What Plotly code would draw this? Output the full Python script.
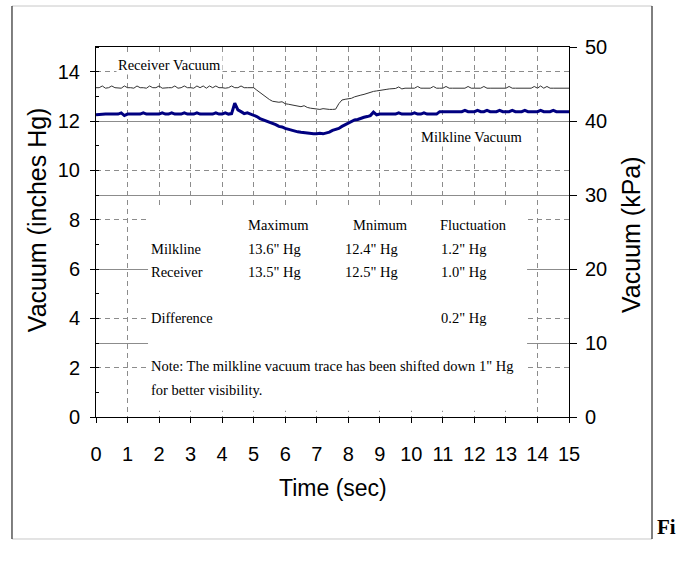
import plotly.graph_objects as go

# ---- data ----
time_sec = [round(i * 0.1, 1) for i in range(151)]

receiver_inhg = [
    13.35, 13.35, 13.42, 13.33, 13.35, 13.42, 13.35, 13.35, 13.33, 13.42,
    13.35, 13.35, 13.33, 13.42, 13.35, 13.35, 13.33, 13.42, 13.35, 13.35,
    13.42, 13.33, 13.35, 13.35, 13.35, 13.42, 13.33, 13.35, 13.42, 13.35,
    13.35, 13.33, 13.42, 13.35, 13.42, 13.33, 13.42, 13.35, 13.42, 13.35,
    13.35, 13.33, 13.35, 13.42, 13.35, 13.35, 13.42, 13.35, 13.35, 13.35,
    13.35, 13.25, 13.15, 13.05, 12.95, 12.87, 12.80, 12.78, 12.76, 12.78,
    12.70, 12.68, 12.66, 12.62, 12.60, 12.58, 12.62, 12.55, 12.52, 12.50,
    12.47, 12.47, 12.50, 12.47, 12.47, 12.47, 12.48, 12.70, 12.85, 12.88,
    12.90, 12.92, 12.98, 13.00, 13.05, 13.08, 13.12, 13.18, 13.20, 13.22,
    13.25, 13.28, 13.28, 13.30, 13.30, 13.32, 13.38, 13.30, 13.33, 13.33,
    13.33, 13.33, 13.40, 13.33, 13.33, 13.33, 13.33, 13.40, 13.33, 13.33,
    13.33, 13.40, 13.33, 13.33, 13.33, 13.33, 13.33, 13.33, 13.40, 13.33,
    13.33, 13.33, 13.33, 13.40, 13.33, 13.33, 13.33, 13.33, 13.33, 13.33,
    13.33, 13.40, 13.33, 13.33, 13.33, 13.33, 13.33, 13.33, 13.33, 13.40,
    13.33, 13.42, 13.33, 13.40, 13.33, 13.33, 13.33, 13.33, 13.33, 13.33,
    13.33,
]

milkline_inhg = [
    12.25, 12.27, 12.28, 12.28, 12.28, 12.28, 12.28, 12.28, 12.33, 12.22,
    12.28, 12.28, 12.28, 12.28, 12.28, 12.33, 12.28, 12.28, 12.28, 12.28,
    12.28, 12.33, 12.28, 12.28, 12.33, 12.28, 12.28, 12.28, 12.33, 12.28,
    12.28, 12.28, 12.33, 12.28, 12.28, 12.28, 12.28, 12.28, 12.33, 12.28,
    12.28, 12.33, 12.28, 12.30, 12.72, 12.45, 12.38, 12.30, 12.33, 12.28,
    12.25, 12.18, 12.10, 12.05, 12.00, 11.97, 11.92, 11.85, 11.78, 11.76,
    11.70, 11.66, 11.62, 11.60, 11.56, 11.54, 11.52, 11.50, 11.48, 11.48,
    11.48, 11.50, 11.48, 11.50, 11.55, 11.62, 11.66, 11.70, 11.78, 11.85,
    11.92, 11.98, 12.04, 12.06, 12.12, 12.15, 12.18, 12.22, 12.36, 12.25,
    12.28, 12.28, 12.28, 12.28, 12.28, 12.28, 12.33, 12.28, 12.28, 12.28,
    12.28, 12.33, 12.28, 12.28, 12.33, 12.28, 12.28, 12.28, 12.28, 12.38,
    12.38, 12.38, 12.38, 12.38, 12.38, 12.38, 12.38, 12.43, 12.38, 12.38,
    12.38, 12.43, 12.38, 12.38, 12.43, 12.38, 12.38, 12.38, 12.43, 12.38,
    12.38, 12.38, 12.43, 12.38, 12.38, 12.38, 12.43, 12.38, 12.38, 12.38,
    12.38, 12.43, 12.38, 12.38, 12.38, 12.43, 12.38, 12.38, 12.38, 12.38,
    12.38,
]

x_ticks = list(range(0, 16))
y_left_ticks = [0, 2, 4, 6, 8, 10, 12, 14]
y_right_ticks = [0, 10, 20, 30, 40, 50]

table_header = ["Maximum", "Mnimum", "Fluctuation"]
table_rows = ["Milkline", "Receiver", "Difference"]
table_max = ['13.6" Hg', '13.5" Hg', ""]
table_min = ['12.4" Hg', '12.5" Hg', ""]
table_fluct = ['1.2" Hg', '1.0" Hg', '0.2" Hg']
note_lines = ['Note: The milkline vacuum trace has been shifted down 1" Hg',
              "for better visibility."]

# ---- styles ----
SANS = "Liberation Sans, Arial"
SERIF = "Liberation Serif, Times New Roman, serif"
GRID = "#8c8c8c"
TICK_SIZE = 20

fig = go.Figure()
fig.add_trace(go.Scatter(x=time_sec, y=receiver_inhg, mode="lines",
                         line=dict(color="#333333", width=1), showlegend=False))
fig.add_trace(go.Scatter(x=time_sec, y=milkline_inhg, mode="lines",
                         line=dict(color="#000080", width=3), showlegend=False))
# invisible trace to activate the right axis
fig.add_trace(go.Scatter(x=[0], y=[0], yaxis="y2", mode="markers",
                         marker=dict(opacity=0), showlegend=False, hoverinfo="skip"))

fig.update_layout(
    width=688, height=567,
    margin=dict(l=96, r=119, t=47, b=150),
    paper_bgcolor="white", plot_bgcolor="white",
    xaxis=dict(range=[0, 15], tickvals=x_ticks, ticks="outside", ticklen=5,
               tickcolor="black", showline=True, linecolor="black", linewidth=1,
               mirror=True, showgrid=True, gridcolor=GRID, griddash="5px,4px",
               gridwidth=1, zeroline=False, ticklabelstandoff=14,
               tickfont=dict(family=SANS, size=TICK_SIZE, color="black")),
    yaxis=dict(range=[0, 15], tickvals=y_left_ticks, ticks="outside", ticklen=5,
               tickcolor="black", showline=True, linecolor="black", linewidth=1,
               mirror=True, showgrid=True, gridcolor=GRID, griddash="5px,4px",
               zeroline=False, ticklabelstandoff=6,
               minor=dict(dtick=1, tick0=1, ticks="inside", ticklen=3,
                          tickcolor="black", showgrid=False),
               tickfont=dict(family=SANS, size=TICK_SIZE, color="black")),
    yaxis2=dict(range=[0, 50], tickvals=y_right_ticks, overlaying="y", side="right",
                ticks="outside", ticklen=7, tickcolor="black", showline=False,
                showgrid=True, gridcolor=GRID, gridwidth=1, zeroline=False,
                ticklabelstandoff=4,
                tickfont=dict(family=SANS, size=TICK_SIZE, color="black")),
)

shapes = [
    # white panel behind the statistics table
    dict(type="rect", xref="x", yref="y", x0=1.65, x1=13.67, y0=0.25, y1=8.45,
         fillcolor="white", line=dict(width=0), layer="between"),
    # outer page frame
    dict(type="line", xref="paper", yref="paper", x0=-0.1776, x1=1.1755, y0=1.1108, y1=1.1108,
         line=dict(color="#c8c8c8", width=1), layer="above"),
    dict(type="line", xref="paper", yref="paper", x0=-0.1776, x1=1.1755, y0=-0.3297, y1=-0.3297,
         line=dict(color="#c8c8c8", width=1), layer="above"),
    dict(type="line", xref="paper", yref="paper", x0=-0.1776, x1=-0.1776, y0=-0.3297, y1=1.1108,
         line=dict(color="black", width=1), layer="above"),
    dict(type="line", xref="paper", yref="paper", x0=1.1755, x1=1.1755, y0=-0.3297, y1=1.1108,
         line=dict(color="black", width=1), layer="above"),
]
fig.update_layout(shapes=shapes)

ann = []
def txt(x, y, s, size=14.5, xanchor="left", bg=None, font=SERIF):
    d = dict(x=x, y=y, xref="x", yref="y", text=s, showarrow=False,
             xanchor=xanchor, yanchor="middle",
             font=dict(family=font, size=size, color="black"))
    if bg:
        d["bgcolor"] = bg
        d["borderpad"] = 1
    ann.append(d)

# series labels
txt(0.62, 14.27, "Receiver Vacuum", bg="white")
txt(10.25, 11.36, "Milkline Vacuum", bg="white")

# statistics table
header_x = [4.76, 8.1, 10.85]
for hx, h in zip(header_x, table_header):
    txt(hx, 7.78, h)
row_y = [6.80, 5.89, 4.00]
for ry, r, mx, mn, fl in zip(row_y, table_rows, table_max, table_min, table_fluct):
    txt(1.69, ry, r)
    if mx:
        txt(4.76, ry, mx)
    if mn:
        txt(7.84, ry, mn)
    txt(10.88, ry, fl)
txt(1.69, 2.08, note_lines[0])
txt(1.69, 1.09, note_lines[1])

# axis titles
ann.append(dict(x=0.501, y=-0.192, xref="paper", yref="paper", text="Time (sec)",
                showarrow=False, xanchor="center", yanchor="middle",
                font=dict(family=SANS, size=23, color="black")))
ann.append(dict(x=-0.1247, y=0.532, xref="paper", yref="paper", text="Vacuum (inches Hg)",
                showarrow=False, textangle=-90, xanchor="center", yanchor="middle",
                font=dict(family=SANS, size=25, color="black")))
ann.append(dict(x=1.131, y=0.4946, xref="paper", yref="paper", text="Vacuum (kPa)",
                showarrow=False, textangle=-90, xanchor="center", yanchor="middle",
                font=dict(family=SANS, size=25, color="black")))
# page fragment at the bottom right
ann.append(dict(x=1.1818, y=-0.297, xref="paper", yref="paper", text="<b>Fi</b>",
                showarrow=False, xanchor="left", yanchor="middle",
                font=dict(family=SERIF, size=21, color="black")))

fig.update_layout(annotations=ann)
fig.write_html("out.html")
